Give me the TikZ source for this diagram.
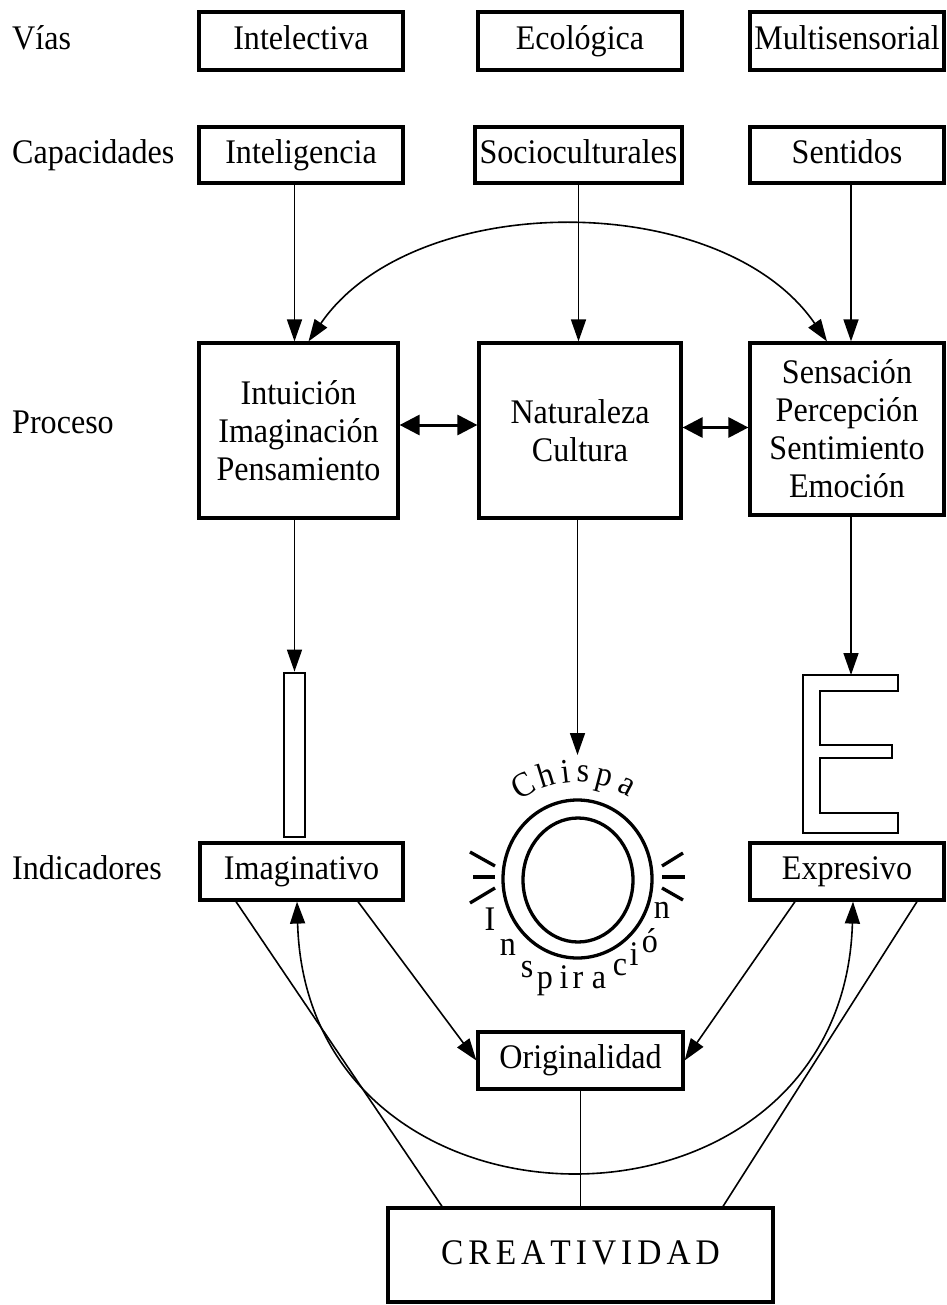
\documentclass[tikz,border=0pt]{standalone}
\usepackage{fontspec}
\setmainfont{Liberation Serif}[FakeStretch=0.93]
\usetikzlibrary{arrows.meta,calc}
\newcommand\ltsp{\hspace{5pt}}
\begin{document}
\begin{tikzpicture}[x=1pt,y=-1pt,
  every node/.style={font=\fontsize{34.5}{38}\selectfont, inner sep=0pt},
  box/.style={draw, line width=3.2pt, align=center},
  sbox/.style={box, text height=24pt, text depth=7.5pt},
  conn/.style={line width=1.6pt},
  arr/.style={conn, -{Triangle[length=22pt,width=15pt]}},
  darr/.style={conn, {Triangle[length=22pt,width=15pt]}-{Triangle[length=22pt,width=15pt]}},
  harr/.style={line width=3pt, {Triangle[length=20pt,width=20pt]}-{Triangle[length=20pt,width=20pt]}},
  lbl/.style={anchor=west, text height=24pt, text depth=7.5pt},
  ring/.style={line width=3.3pt},
  ray/.style={line width=3.3pt},
  ]
\useasboundingbox (0,0) rectangle (946,1305);

% row labels
\node[lbl] (lv) at (12,41) {Vías};
\node[lbl] (lc) at (12,155) {Capacidades};
\node[lbl] (lp) at (12,425) {Proceso};
\node[lbl] (li) at (12,871) {Indicadores};

% Vias
\node[sbox, minimum width=204pt, minimum height=58pt] (vi1) at (301,41) {Intelectiva};
\node[sbox, minimum width=204pt, minimum height=58pt] (vi2) at (580,41) {Ecológica};
\node[sbox, minimum width=194pt, minimum height=58pt] (vi3) at (847,41) {Multisensorial};

% Capacidades
\node[sbox, minimum width=204pt, minimum height=56pt] (ca1) at (301,155) {Inteligencia};
\node[sbox, minimum width=207pt, minimum height=56pt] (ca2) at (578.5,155) {Socioculturales};
\node[sbox, minimum width=194pt, minimum height=56pt] (ca3) at (847,155) {Sentidos};

% Proceso
\node[box, minimum width=199pt, minimum height=175pt] (pr1) at (298.5,430.5) {Intuición\\Imaginación\\Pensamiento};
\node[box, minimum width=202pt, minimum height=175pt] (pr2) at (580,430.5) {Naturaleza\\Cultura};
\node[box, minimum width=194pt, minimum height=172pt] (pr3) at (847,429) {Sensación\\Percepción\\Sentimiento\\Emoción};

% Indicadores
\node[sbox, minimum width=203pt, minimum height=57pt] (in1) at (301.5,871.5) {Imaginativo};
\node[sbox, minimum width=194pt, minimum height=57pt] (in3) at (847,871.5) {Expresivo};
\node[sbox, minimum width=205pt, minimum height=57pt] (ori) at (580.5,1060.5) {Originalidad};
\node[sbox, minimum width=385pt, minimum height=94pt, text height=26pt, text depth=7pt,
  font=\fontsize{36}{40}\selectfont] (cre) at (580.5,1255)
  {C\ltsp R\ltsp E\ltsp A\ltsp T\ltsp I\ltsp V\ltsp I\ltsp D\ltsp A\ltsp D};

% I bar
\node[draw, line width=2.8pt, minimum width=21pt, minimum height=164pt] (Ibar) at (294.5,755) {};

% E shape
\coordinate (Etop) at (851,675);
\draw[line width=2.8pt, line join=miter] (803,675) -- (898,675) -- (898,691) -- (820,691) -- (820,745)
  -- (892,745) -- (892,758) -- (820,758) -- (820,813) -- (898,813) -- (898,833) -- (803,833) -- cycle;

% O ring
\coordinate (ctr) at (577.5,879);
\coordinate (spark) at (577.5,755);
\draw[ring] (ctr) ellipse [x radius=74.5, y radius=79];
\draw[ring] (578,880) ellipse [x radius=55, y radius=62];
\draw[ray] (470,852) -- (495,866);
\draw[ray] (473,877) -- (495,877);
\draw[ray] (470,903) -- (495,888);
\draw[ray] (662,866) -- (683,853);
\draw[ray] (662,877) -- (685,877);
\draw[ray] (662,888) -- (683,900);
\foreach \ch/\ang in {C/120, h/107, i/96.5, s/87, p/75.5, a/62}
  \node[anchor=base, rotate={\ang-90}] at ($(ctr)+(-\ang:97)$) {\ch};
\foreach \ch/\xx/\yy in {I/490/930, n/508/955, s/527/977, p/545/988, i/564/988, r/578/988, a/599/988, c/620/975, i/634/965, ó/650/952, n/662/918}
  \node[anchor=base] at (\xx,\yy) {\ch};

% connectors top
\draw[arr] (ca1.south -| Ibar.north) -- (pr1.north -| Ibar.north);
\draw[arr] (ca2.south) -- (ca2.south |- pr2.north);
\draw[arr] (ca3.south -| Etop) -- (pr3.north -| Etop);
\draw[darr] ([xshift=10pt]pr1.north) .. controls +(105,-153) and +(-105,-153) .. ([xshift=-20pt]pr3.north);
\draw[harr] ([yshift=5.5pt]pr1.east) -- ([yshift=5.5pt]pr1.east -| pr2.west);
\draw[harr] ([yshift=3pt]pr2.east) -- ([yshift=3pt]pr2.east -| pr3.west);

% connectors down
\draw[arr] (pr1.south -| Ibar.north) -- (Ibar.north);
\draw[arr] (pr2.south -| spark) -- (spark);
\draw[arr] (pr3.south -| Etop) -- (Etop);

% bottom
\draw[conn] ([xshift=-65.5pt]in1.south) -- ([xshift=-138.5pt]cre.north);
\draw[arr] ([xshift=56.5pt]in1.south) -- (ori.west);
\draw[darr] ([xshift=-4.5pt]in1.south) .. controls +(10,356) and +(-10,356) .. ([xshift=6pt]in3.south);
\draw[arr] ([xshift=-52pt]in3.south) -- (ori.east);
\draw[conn] ([xshift=70pt]in3.south) -- ([xshift=142.5pt]cre.north);
\draw[conn] (ori.south) -- (ori.south |- cre.north);
\end{tikzpicture}
\end{document}
